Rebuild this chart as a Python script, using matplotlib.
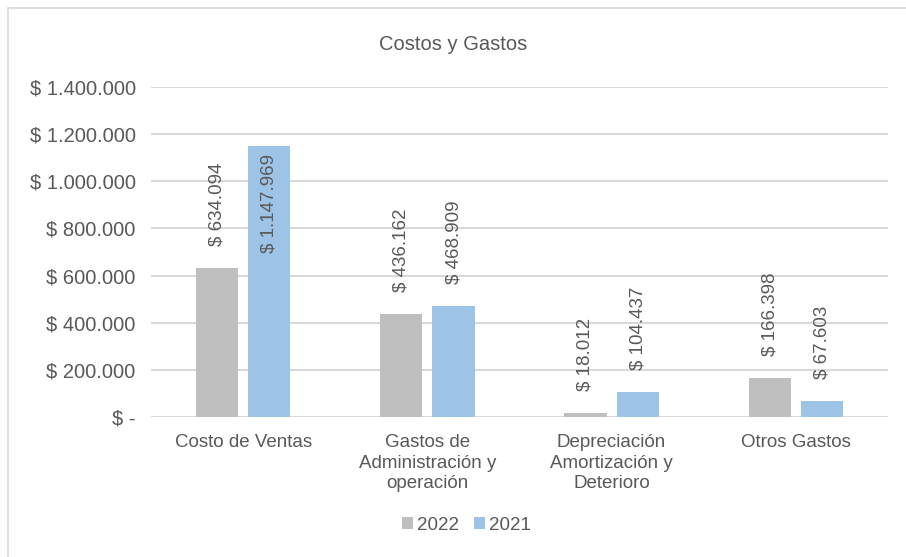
import matplotlib.pyplot as plt
import numpy as np
from matplotlib.patches import Rectangle

categories = ['Costo de Ventas', 'Gastos de\nAdministración y\noperación',
              'Depreciación\nAmortización y\nDeterioro', 'Otros Gastos']
v2022 = [634094, 436162, 18012, 166398]
v2021 = [1147969, 468909, 104437, 67603]
yticks = [0, 200000, 400000, 600000, 800000, 1000000, 1200000, 1400000]

def money(v):
    if v == 0:
        return '$ -'
    return '$ ' + f'{v:,.0f}'.replace(',', '.')

plt.rcParams['font.family'] = ['Liberation Sans', 'DejaVu Sans']
txt = '#595959'
grey = '#BFBFBF'
blue = '#9DC3E6'
fs = 13.5

fig = plt.figure(figsize=(9.06, 5.57), dpi=100)
fig.patches.append(Rectangle((8 / 906, -0.1), 1.2, 1 - 8 / 557 + 0.1,
                             transform=fig.transFigure, fill=False,
                             edgecolor='#D9D9D9', linewidth=1.2))
ax = fig.add_axes([151 / 906, 1 - 417 / 557, 737 / 906, 330 / 557])

x = np.arange(len(categories))
w = 0.23
off = 0.142
ax.bar(x - off, v2022, w, color=grey, label='2022', zorder=3)
ax.bar(x + off, v2021, w, color=blue, label='2021', zorder=3)

ax.set_ylim(0, 1400000)
ax.set_xlim(-0.5, len(categories) - 0.5)
ax.set_yticks(yticks)
ax.set_yticklabels([money(v) for v in yticks], fontsize=14.5)
ax.set_xticks(x)
ax.set_xticklabels(categories, linespacing=1.3, fontsize=fs)
ax.tick_params(length=0, colors=txt)
ax.tick_params(axis='y', pad=11)
ax.tick_params(axis='x', pad=12)
ax.yaxis.grid(True, color='#D9D9D9', linewidth=1.5, zorder=0)
for s in ax.spines.values():
    s.set_visible(False)

# value labels, rotated, above each bar (inside for the tallest one)
gap = 22 * 1400000 / 330
for xs, vals in ((x - off, v2022), (x + off, v2021)):
    for xi, v in zip(xs, vals):
        if v > 1000000:
            ax.text(xi, v - 8 * 1400000 / 330, money(v), rotation=90,
                    ha='center', va='top', color=txt, fontsize=fs, zorder=4)
        else:
            ax.text(xi, v + gap, money(v), rotation=90,
                    ha='center', va='bottom', color=txt, fontsize=fs, zorder=4)

fig.text(0.5, 1 - 44 / 557, 'Costos y Gastos', ha='center', va='center',
         color=txt, fontsize=14.5)
fig.legend(loc='center', bbox_to_anchor=(466 / 906, 1 - 525 / 557), ncol=2,
           frameon=False, fontsize=fs, labelcolor=txt, handlelength=0.6,
           handleheight=0.6, handletextpad=0.2, columnspacing=0.8)

fig.savefig('out.png', dpi=100)
